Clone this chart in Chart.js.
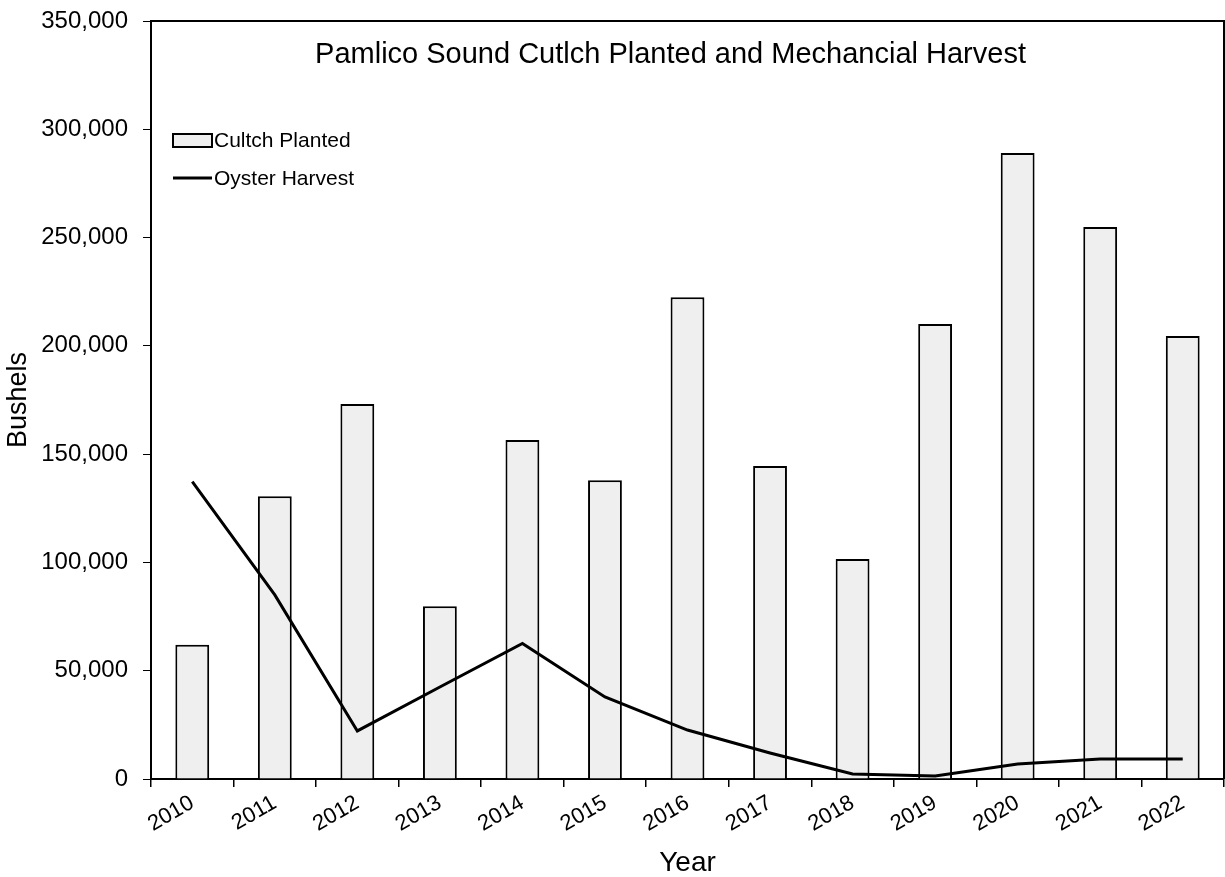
<!DOCTYPE html>
<html>
<head>
<meta charset="utf-8">
<script src="https://cdn.jsdelivr.net/npm/chart.js@4.4.1/dist/chart.umd.min.js"></script>
<style>
  html, body { margin:0; padding:0; background:#fff; }
  #wrap { width:1225px; height:877px; position:relative; }
</style>
</head>
<body>
<div id="wrap"><canvas id="c" width="1225" height="877"></canvas></div>
<script>
// ----- data -----
const years = ['2010','2011','2012','2013','2014','2015','2016','2017','2018','2019','2020','2021','2022'];
const cultchPlanted = [62000, 130500, 173200, 79800, 156500, 138000, 222500, 144500, 101600, 210100, 289000, 254900, 204500];
const oysterHarvest = [137300, 85000, 22200, 42500, 62600, 37900, 22600, 12000, 2300, 1400, 6900, 9200, 9200];
const yTicks = [0, 50000, 100000, 150000, 200000, 250000, 300000, 350000];

const chartTitle = 'Pamlico Sound Cutlch Planted and Mechancial Harvest';
const FONT = 'Arial, "Liberation Sans", sans-serif';

// frame + title + legend drawn inside the plot area
const insidePlot = {
  id: 'insidePlot',
  afterDatasetsDraw(chart){
    const {ctx, chartArea:a} = chart;
    ctx.save();
    // frame top/right
    ctx.strokeStyle = '#000'; ctx.lineWidth = 2;
    ctx.beginPath();
    ctx.moveTo(a.left, a.top); ctx.lineTo(a.right, a.top); ctx.lineTo(a.right, a.bottom);
    ctx.stroke();
    // title
    ctx.fillStyle = '#000';
    ctx.font = '29px ' + FONT;
    ctx.textAlign = 'center'; ctx.textBaseline = 'middle';
    ctx.fillText(chartTitle, (a.left + a.right)/2 - 17, a.top + 34);
    // legend
    ctx.font = '21px ' + FONT;
    ctx.textAlign = 'left';
    const x0 = a.left + 22, w = 39;
    chart.data.datasets.forEach((ds, i) => {
      const y = a.top + 119 + i*38;
      if (ds.type === 'bar'){
        ctx.fillStyle = ds.backgroundColor;
        ctx.fillRect(x0, y-6, w, 13);
        ctx.lineWidth = 2; ctx.strokeStyle = '#000';
        ctx.strokeRect(x0, y-6, w, 13);
      } else {
        ctx.lineWidth = 3; ctx.strokeStyle = ds.borderColor;
        ctx.beginPath(); ctx.moveTo(x0, y); ctx.lineTo(x0+w, y); ctx.stroke();
      }
      ctx.fillStyle = '#000';
      ctx.fillText(ds.label, x0 + w + 2, y + 1);
    });
    ctx.restore();
  }
};

new Chart(document.getElementById('c'), {
  data: {
    labels: years,
    datasets: [
      { type:'bar', label:'Cultch Planted', data: cultchPlanted, backgroundColor:'#efefef',
        borderColor:'#000', borderWidth:2, barPercentage:0.41, categoryPercentage:1, order:1 },
      { type:'line', label:'Oyster Harvest', data: oysterHarvest, borderColor:'#000', borderWidth:3,
        pointRadius:0, tension:0, fill:false, order:0 }
    ]
  },
  options: {
    responsive:false, animation:false,
    layout:{ padding:{ left:0, right:1, top:0, bottom:-3 } },
    plugins:{ legend:{ display:false }, tooltip:{ enabled:false } },
    scales:{
      x:{
        offset:true,
        afterFit(axis){ axis.height = 101; axis.paddingLeft = 0; axis.paddingRight = 0; },
        grid:{ display:true, drawOnChartArea:false, offset:true, tickLength:8, color:'#000', lineWidth:1.5 },
        border:{ display:true, color:'#000', width:2 },
        ticks:{ color:'#000', font:{ family:FONT, size:22 }, minRotation:30, maxRotation:30, padding:3 },
        title:{ display:true, text:'Year', color:'#000', font:{ family:FONT, size:28 }, padding:{ top:0, bottom:0 } }
      },
      y:{
        min:0, max:350000,
        afterBuildTicks(axis){ axis.ticks = yTicks.map(v => ({ value:v })); },
        afterFit(axis){ axis.width = 151; axis.paddingTop = 21; axis.paddingBottom = 0; },
        grid:{ display:true, drawOnChartArea:false, tickLength:8, color:'#000', lineWidth:1 },
        border:{ display:true, color:'#000', width:2 },
        ticks:{ color:'#000', font:{ family:FONT, size:24 }, padding:15,
          callback:v => v.toLocaleString('en-US') },
        title:{ display:true, text:'Bushels', color:'#000', font:{ family:FONT, size:27 }, padding:{ top:2, bottom:0 } }
      }
    }
  },
  plugins:[insidePlot]
});
</script>
</body>
</html>
